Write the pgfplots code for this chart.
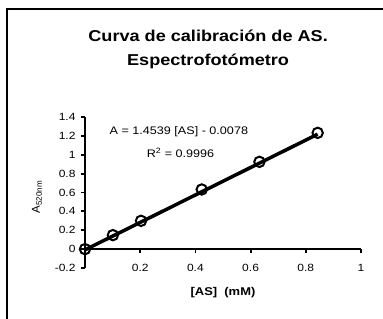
\documentclass[border=0pt]{standalone}
\usepackage{fontspec}
\setmainfont{Liberation Sans}
\usepackage{graphicx}
\usepackage{pgfplots}
\pgfplotsset{compat=1.18}
\newcommand{\sx}[1]{\scalebox{1.15}[1]{#1}}
\begin{document}
\begin{tikzpicture}
\path[use as bounding box] (0,0) rectangle (383bp,319bp);
\draw[line width=2bp] (7bp,-1bp) -- (7bp,310bp) -- (384bp,310bp);
\begin{axis}[
  scale only axis,
  width=276bp, height=151bp,
  at={(85bp,51bp)}, anchor=south west,
  xmin=0, xmax=1, ymin=-0.2, ymax=1.4,
  axis x line*=middle, axis y line*=left,
  axis line style={line width=2.2bp},
  tick style={line width=1.8bp, black},
  tick align=outside,
  major tick length=4bp,
  xtick={0,0.2,0.4,0.6,0.8,1},
  ytick={-0.2,0,0.2,0.4,0.6,0.8,1,1.2,1.4},
  /pgf/number format/assume math mode=true,
  xticklabel={\sx{\pgfmathprintnumber{\tick}}},
  yticklabel={\sx{\pgfmathprintnumber{\tick}}},
  ticklabel style={font=\fontsize{10.5}{12}\selectfont},
  xticklabel style={anchor=center, yshift=-15bp},
  yticklabel style={anchor=east, xshift=-2bp},
  xlabel={\sx{\textbf{[AS]\ \ (mM)}}},
  xlabel style={at={(axis description cs:0.5,-0.166)}, anchor=center, font=\fontsize{11.3}{12}\selectfont},
  ylabel={A\textsubscript{520nm}},
  ylabel style={at={(axis description cs:-0.174,0.47)}, anchor=center, font=\fontsize{11.5}{12}\selectfont},
  title={\sx{Curva de calibración de AS.}\\\sx{Espectrofotómetro}},
  title style={at={(axis description cs:0.446,1.41)}, anchor=center, align=center, font=\fontsize{15.8}{24}\selectfont\bfseries},
  clip=false,
]
\addplot[only marks, mark=o, mark size=5.2bp, mark options={line width=2bp, black}]
  coordinates {(0,0) (0.101,0.148) (0.203,0.30) (0.423,0.632) (0.632,0.925) (0.843,1.232)};
\addplot[black, line width=3.5bp, no marks]
  coordinates {(0,-0.0078) (0.843,1.2179)};
\node[font=\fontsize{11}{12}\selectfont] at (axis cs:0.34,1.24) {\sx{A = 1.4539 [AS] - 0.0078}};
\node[font=\fontsize{11}{12}\selectfont] at (axis cs:0.346,1.018) {\sx{R\textsuperscript{2} = 0.9996}};
\end{axis}
\end{tikzpicture}
\end{document}
